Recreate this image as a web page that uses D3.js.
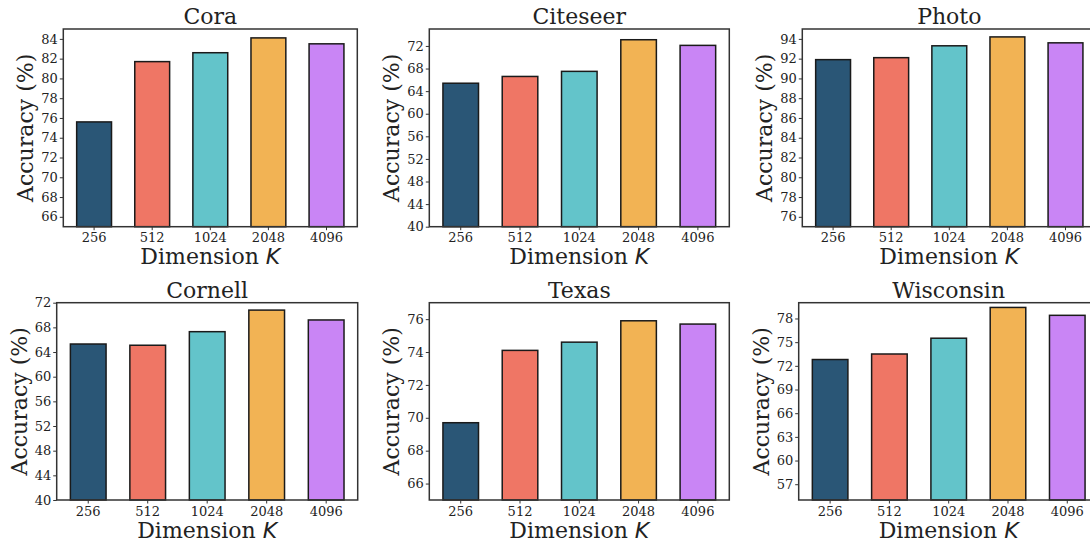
<!DOCTYPE html>
<html>
<head>
<meta charset="utf-8">
<script src="https://cdn.jsdelivr.net/npm/d3@7"></script>
<style>
  body { margin: 0; background: #fff; }
  svg { display: block; }
  text { font-family: "DejaVu Serif", serif; fill: #222; }
</style>
</head>
<body>
<div id="wrapper"></div>
<script>
// values
const dims = ["256", "512", "1024", "2048", "4096"];
const barColors = ["#2a5676", "#ef7665", "#63c4ca", "#f2b354", "#c985f5"];

const titles = ["Cora", "Citeseer", "Photo", "Cornell", "Texas", "Wisconsin"];

const cora      = [75.6, 81.7, 82.6, 84.1, 83.5];
const citeseer  = [65.4, 66.6, 67.5, 73.1, 72.1];
const photo     = [91.9, 92.1, 93.3, 94.2, 93.6];
const cornell   = [65.3, 65.1, 67.3, 70.8, 69.2];
const texas     = [69.7, 74.1, 74.6, 75.9, 75.7];
const wisconsin = [72.8, 73.5, 75.5, 79.4, 78.4];

const yDomains = [[65, 85], [40, 75], [75, 95], [40, 72], [65, 77], [55, 80]];
const yTicks = [
  d3.range(66, 85, 2),
  d3.range(40, 73, 4),
  d3.range(76, 95, 2),
  d3.range(40, 73, 4),
  d3.range(66, 77, 2),
  d3.range(57, 79, 3)
];

const series = [cora, citeseer, photo, cornell, texas, wisconsin];

// axes boxes (pixels) of the six panels
const boxes = [
  {left: 63.3,  right: 357.3,  top: 29,    bottom: 226.7},
  {left: 429.3, right: 729.3,  top: 29,    bottom: 226.7},
  {left: 802.3, right: 1096.3, top: 29,    bottom: 226.7},
  {left: 56.7,  right: 357.7,  top: 302.7, bottom: 500},
  {left: 429.3, right: 729.3,  top: 302.7, bottom: 500},
  {left: 798.7, right: 1098.7, top: 302.7, bottom: 500}
];

const W = 1090, H = 542;

const svg = d3.select("#wrapper")
  .append("svg")
    .attr("width", W)
    .attr("height", H);

function drawPanel(i) {
  const b = boxes[i];
  const vals = series[i];

  const x = d3.scaleBand()
    .domain(dims)
    .range([b.left, b.right])
    .paddingInner(0.4)
    .paddingOuter(0.23);

  const y = d3.scaleLinear()
    .domain(yDomains[i])
    .range([b.bottom, b.top]);

  const g = svg.append("g");

  g.selectAll("rect.bar")
    .data(vals)
    .enter()
    .append("rect")
      .attr("class", "bar")
      .attr("x", (d, j) => x(dims[j]))
      .attr("y", d => y(d))
      .attr("width", x.bandwidth())
      .attr("height", d => b.bottom - y(d))
      .attr("fill", (d, j) => barColors[j])
      .attr("stroke", "#1a1a1a")
      .attr("stroke-width", 1.5);

  // x axis
  const xAxis = g.append("g")
    .attr("transform", "translate(0," + b.bottom + ")")
    .call(d3.axisBottom(x).tickSizeOuter(0).tickSize(3.5).tickPadding(3));
  xAxis.select(".domain").remove();
  xAxis.selectAll("line").attr("stroke", "#333").attr("stroke-width", 1);
  xAxis.selectAll("text")
    .attr("font-size", 13)
    .attr("font-family", "DejaVu Serif")
    .attr("fill", "#222");

  // y axis
  const yAxis = g.append("g")
    .attr("transform", "translate(" + b.left + ",0)")
    .call(d3.axisLeft(y).tickValues(yTicks[i]).tickSizeOuter(0).tickSize(3.5).tickPadding(2));
  yAxis.select(".domain").remove();
  yAxis.selectAll("line").attr("stroke", "#333").attr("stroke-width", 1);
  yAxis.selectAll("text")
    .attr("font-size", 13)
    .attr("font-family", "DejaVu Serif")
    .attr("fill", "#222");

  // frame
  g.append("rect")
    .attr("x", b.left)
    .attr("y", b.top)
    .attr("width", b.right - b.left)
    .attr("height", b.bottom - b.top)
    .attr("fill", "none")
    .attr("stroke", "#333")
    .attr("stroke-width", 1.5);

  // title
  g.append("text")
    .attr("x", (b.left + b.right) / 2)
    .attr("y", b.top - 5)
    .attr("text-anchor", "middle")
    .attr("font-size", 22)
    .text(titles[i]);

  // x label
  const xl = g.append("text")
    .attr("x", (b.left + b.right) / 2)
    .attr("y", b.bottom + 37.5)
    .attr("text-anchor", "middle")
    .attr("font-size", 22);
  xl.append("tspan").text("Dimension ");
  xl.append("tspan")
    .attr("font-family", "DejaVu Sans")
    .attr("font-style", "italic")
    .text("K");

  // y label
  g.append("text")
    .attr("transform", "translate(" + (b.left - 30) + "," + ((b.top + b.bottom) / 2) + ") rotate(-90)")
    .attr("text-anchor", "middle")
    .attr("font-size", 22)
    .text("Accuracy (%)");
}

for (let i = 0; i < 6; i++) drawPanel(i);
</script>
</body>
</html>
